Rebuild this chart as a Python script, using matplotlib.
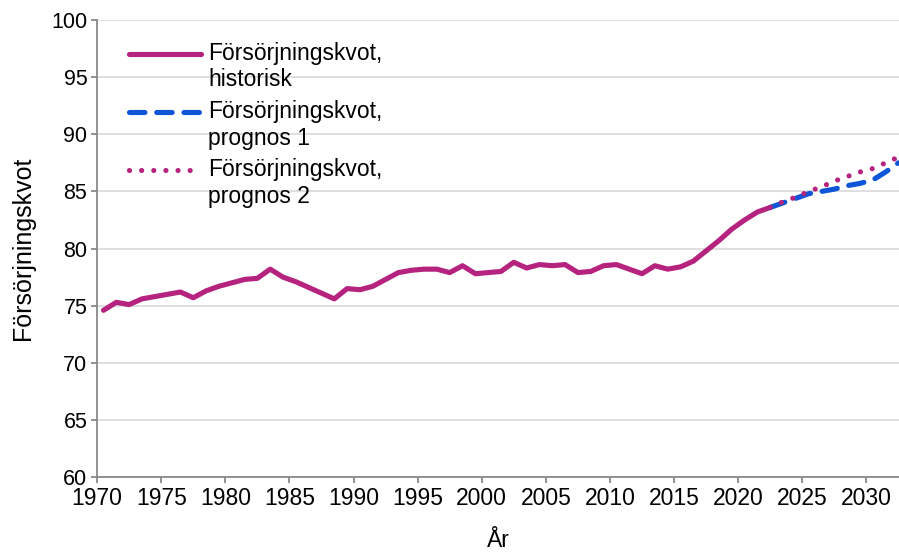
import numpy as np
import matplotlib
matplotlib.use("Agg")
import matplotlib.pyplot as plt

plt.rcParams['font.family'] = ['Liberation Sans', 'DejaVu Sans']

# historisk försörjningskvot, 1970-2022
years_hist = list(range(1970, 2023))
kvot_hist = [74.6, 75.3, 75.1, 75.6, 75.8, 76.0, 76.2, 75.7, 76.3, 76.7,
             77.0, 77.3, 77.4, 78.2, 77.5, 77.1, 76.6, 76.1, 75.6, 76.5,
             76.4, 76.7, 77.3, 77.9, 78.1, 78.2, 78.2, 77.9, 78.5, 77.8,
             77.9, 78.0, 78.8, 78.3, 78.6, 78.5, 78.6, 77.9, 78.0, 78.5,
             78.6, 78.2, 77.8, 78.5, 78.2, 78.4, 78.9, 79.8, 80.7, 81.7,
             82.5, 83.2, 83.6]

# prognoser, 2022-2032
years_prog = list(range(2022, 2033))
kvot_prog1 = [83.6, 84.0, 84.4, 84.8, 85.0, 85.2, 85.5, 85.7, 86.0, 86.7, 87.5]
kvot_prog2 = [83.6, 84.1, 84.5, 85.0, 85.4, 85.9, 86.3, 86.7, 87.0, 87.5, 88.0]

tick_years = list(range(1970, 2031, 5))

pink = '#B5237F'
blue = '#0F55D8'

fig = plt.figure(figsize=(8.99, 5.53), dpi=100)
ax = fig.add_axes([0.108, 0.137, 0.892, 0.827])

ax.plot(years_hist, kvot_hist, color=pink, lw=3.7, solid_joinstyle='round',
        solid_capstyle='round', label='Försörjningskvot,\nhistorisk', zorder=3)
ax.plot(years_prog, kvot_prog1, color=blue, lw=3.7, dashes=(3.0, 2.3),
        dash_capstyle='round', label='Försörjningskvot,\nprognos 1', zorder=3)
ax.plot(years_prog, kvot_prog2, color=pink, lw=3.7, dashes=(0.01, 2.35),
        dash_capstyle='round', label='Försörjningskvot,\nprognos 2', zorder=4)

ax.set_ylim(60, 100)
ax.set_yticks(range(60, 101, 5))
ax.set_xlim(1969.53, 2032.04)
ax.set_xticks([y - 0.5 for y in tick_years])
ax.set_xticklabels([str(y) for y in tick_years])

ax.grid(axis='y', color='#D9D9D9', lw=1.2)
ax.set_axisbelow(True)
for s in ['top', 'right']:
    ax.spines[s].set_visible(False)
for s in ['left', 'bottom']:
    ax.spines[s].set_color('#898989')
    ax.spines[s].set_linewidth(1.3)
ax.tick_params(axis='both', direction='out', length=4, width=1.3, color='#898989',
               labelsize=15.5, pad=3)
for lab in ax.get_xticklabels():
    lab.set_fontfamily(['Liberation Sans Narrow', 'Liberation Sans'])
    lab.set_fontsize(16.5)

ax.set_ylabel('Försörjningskvot', fontsize=18, labelpad=12)
ax.set_xlabel('År', fontsize=16.5, labelpad=14)

leg = ax.legend(loc='upper left', bbox_to_anchor=(0.0285, 0.972), frameon=False,
                fontsize=16.5, handlelength=3.15, handletextpad=0.3,
                labelspacing=0.38, borderaxespad=0)
# put the legend keys level with the first text line
for ln in leg.get_lines():
    ln.set_ydata(np.asarray(ln.get_ydata()) + 10)

fig.savefig('out.png', dpi=100)
